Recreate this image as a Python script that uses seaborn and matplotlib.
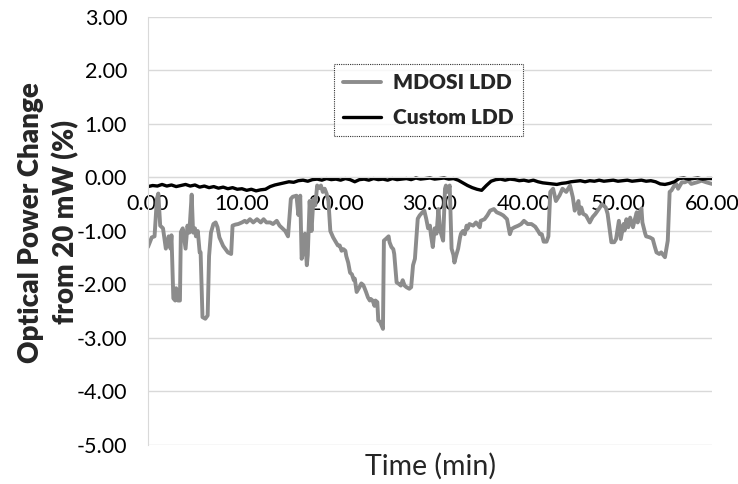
import matplotlib
matplotlib.use("Agg")
import matplotlib.pyplot as plt
import seaborn as sns
import pandas as pd
from matplotlib.ticker import FormatStrFormatter

# --- data ---
mdosi_time = [0.0, 0.4, 0.7, 0.95, 1.1, 1.3, 1.6, 1.9, 2.2, 2.4, 2.5, 2.7, 2.9, 3.0, 3.2, 3.4, 3.5, 3.7,
              4.0, 4.2, 4.4, 4.65, 4.8, 5.0, 5.1, 5.3, 5.5, 5.6, 5.8, 6.1, 6.35, 6.5, 6.7, 6.96, 7.2,
              7.4, 7.6, 8.0, 8.5, 8.85, 9.0, 9.3, 9.6, 10.0, 10.3, 10.5, 10.85, 11.2, 11.6, 12.0, 12.3,
              12.6, 13.0, 13.3, 13.7, 14.0, 14.6, 14.9, 15.2, 15.4, 15.8, 16.0, 16.2, 16.35, 16.5, 16.7,
              16.9, 17.0, 17.2, 17.4, 17.6, 17.8, 18.0, 18.2, 18.4, 18.6, 18.8, 19.0, 19.2, 19.4, 19.7,
              19.9, 20.2, 20.4, 20.6, 20.8, 21.0, 21.1, 21.3, 21.5, 21.7, 21.9, 22.0, 22.2, 22.4, 22.5,
              22.7, 22.9, 23.0, 23.2, 23.4, 23.6, 23.7, 23.9, 24.1, 24.2, 24.4, 24.5, 24.7, 25.0, 25.1,
              25.3, 25.6, 25.7, 25.9, 26.1, 26.2, 26.45, 26.7, 26.9, 27.1, 27.3, 27.5, 27.8, 28.0, 28.2,
              28.4, 28.7, 28.9, 29.2, 29.4, 29.6, 29.8, 30.0, 30.1, 30.3, 30.5, 30.7, 30.9, 31.1, 31.4,
              31.6, 31.7, 31.9, 32.1, 32.3, 32.5, 32.6, 32.8, 33.0, 33.2, 33.3, 33.5, 33.7, 33.9, 34.0,
              34.2, 34.6, 34.9, 35.3, 35.4, 35.8, 36.1, 36.4, 36.8, 37.1, 37.5, 37.8, 38.2, 38.5, 38.7,
              39.0, 39.4, 39.7, 40.0, 40.4, 40.8, 41.2, 41.5, 41.7, 41.9, 42.1, 42.4, 42.6, 42.8, 43.1,
              43.4, 43.8, 44.1, 44.5, 44.9, 45.2, 45.4, 45.8, 45.9, 46.1, 46.3, 46.6, 47.0, 47.3, 47.6,
              48.0, 48.3, 48.7, 48.9, 49.3, 49.6, 49.8, 50.1, 50.3, 50.6, 50.7, 50.9, 51.1, 51.3, 51.6,
              51.8, 52.0, 52.1, 52.3, 52.5, 52.6, 52.9, 53.0, 53.4, 53.7, 53.9, 54.1, 54.4, 54.6, 55.0,
              55.2, 55.3, 55.5, 55.7, 56.0, 56.2, 56.4, 56.8, 57.1, 57.5, 57.8, 58.4, 58.9, 59.4, 60.0]
mdosi_change = [-1.30, -1.12, -1.10, -0.40, -0.30, -0.90, -0.95, -1.33, -1.10, -1.33, -1.08, -2.26, -2.30,
                -2.07, -2.30, -2.30, -1.02, -0.95, -1.33, -0.90, -1.03, -0.32, -1.03, -0.95, -1.10, -1.00,
                -1.40, -1.40, -2.61, -2.64, -2.58, -1.47, -1.03, -0.87, -0.84, -0.93, -1.12, -1.28, -1.40,
                -1.43, -0.90, -0.88, -0.87, -0.84, -0.81, -0.84, -0.78, -0.84, -0.78, -0.84, -0.78, -0.84,
                -0.84, -0.87, -0.81, -0.90, -1.00, -1.10, -0.40, -0.36, -0.34, -0.70, -0.34, -1.52, -1.40,
                -1.05, -1.64, -1.45, -0.44, -1.00, -0.40, -0.52, -0.15, -0.20, -0.15, -0.27, -0.21, -0.30,
                -0.44, -1.00, -1.12, -1.18, -1.27, -1.27, -1.37, -1.34, -1.37, -1.47, -1.59, -1.78, -1.81,
                -1.92, -1.89, -2.14, -2.08, -2.05, -1.98, -2.01, -2.05, -2.14, -2.24, -2.30, -2.27, -2.30,
                -2.40, -2.30, -2.33, -2.67, -2.70, -2.83, -1.18, -1.15, -1.10, -1.21, -1.30, -1.34, -1.43,
                -1.96, -1.99, -2.02, -1.92, -2.02, -2.05, -2.08, -2.05, -1.64, -1.52, -0.77, -0.71, -0.65,
                -0.62, -0.77, -0.95, -0.90, -1.07, -1.30, -0.95, -1.05, -0.59, -1.00, -1.18, -0.21, -0.15,
                -0.27, -0.15, -1.33, -1.45, -1.59, -1.45, -1.33, -1.12, -1.05, -1.00, -1.06, -0.90, -0.96,
                -0.87, -0.90, -0.84, -0.93, -0.81, -0.78, -0.71, -0.62, -0.59, -0.65, -0.68, -0.71, -0.78,
                -1.06, -0.96, -0.93, -0.90, -0.87, -0.81, -0.87, -0.87, -0.92, -1.00, -1.06, -1.06, -1.20,
                -1.20, -1.10, -0.27, -0.21, -0.44, -0.33, -0.21, -0.27, -0.15, -0.37, -0.62, -0.44, -0.68,
                -0.56, -0.68, -0.71, -0.84, -0.74, -0.68, -0.58, -0.50, -0.56, -0.68, -1.21, -1.21, -1.15,
                -0.81, -1.15, -0.87, -0.99, -0.78, -0.93, -0.75, -0.93, -0.78, -0.65, -0.84, -0.65, -0.58,
                -0.84, -1.05, -1.10, -1.12, -1.15, -1.28, -1.40, -1.43, -1.40, -1.49, -1.28, -1.18, -0.27,
                -0.24, -0.15, -0.12, -0.21, -0.09, -0.09, -0.06, -0.12, -0.09, -0.06, -0.09, -0.12]

custom_time = [i * 0.5 for i in range(121)]
custom_change = [-0.17, -0.15, -0.16, -0.13, -0.16, -0.14, -0.17, -0.15, -0.13, -0.16, -0.14, -0.18, -0.16,
                 -0.19, -0.17, -0.20, -0.18, -0.21, -0.19, -0.22, -0.21, -0.24, -0.22, -0.25, -0.23, -0.22,
                 -0.17, -0.14, -0.12, -0.10, -0.08, -0.09, -0.06, -0.05, -0.07, -0.04, -0.03, -0.05, -0.02,
                 -0.04, -0.03, -0.05, -0.02, -0.04, -0.08, -0.04, -0.03, -0.05, -0.02, -0.04, -0.03, -0.05,
                 -0.02, -0.04, -0.03, -0.02, -0.04, -0.01, -0.03, -0.02, -0.01, -0.03, -0.02, -0.01, -0.03,
                 -0.02, -0.05, -0.10, -0.15, -0.19, -0.22, -0.24, -0.15, -0.07, -0.04, -0.03, -0.05, -0.03,
                 -0.04, -0.06, -0.05, -0.07, -0.05, -0.08, -0.10, -0.11, -0.12, -0.13, -0.11, -0.10, -0.08,
                 -0.07, -0.06, -0.08, -0.06, -0.07, -0.05, -0.07, -0.06, -0.05, -0.07, -0.06, -0.05, -0.07,
                 -0.06, -0.05, -0.07, -0.06, -0.08, -0.12, -0.13, -0.11, -0.08, -0.02, -0.01, -0.03, -0.02,
                 -0.01, -0.03, -0.02, -0.02]

x_ticks = [0, 10, 20, 30, 40, 50, 60]
y_ticks = [3, 2, 1, 0, -1, -2, -3, -4, -5]

df_mdosi = pd.DataFrame({"time": mdosi_time, "change": mdosi_change})
df_custom = pd.DataFrame({"time": custom_time, "change": custom_change})

sns.set_style("white")
plt.rcParams["font.family"] = ["Lato", "DejaVu Sans"]

fig = plt.figure(figsize=(7.38, 4.84), dpi=100)
ax = fig.add_axes([0.2005, 0.0806, 0.7642, 0.8843])

sns.lineplot(data=df_mdosi, x="time", y="change", ax=ax, color="#8c8c8c", lw=2.8,
             label="MDOSI LDD", estimator=None, sort=False)
sns.lineplot(data=df_custom, x="time", y="change", ax=ax, color="black", lw=2.4,
             label="Custom LDD", estimator=None, sort=False)

ax.set_xlim(0, 60)
ax.set_ylim(-5, 3)
ax.set_xticks(x_ticks)
ax.set_yticks(y_ticks)
ax.xaxis.set_major_formatter(FormatStrFormatter("%.2f"))
ax.yaxis.set_major_formatter(FormatStrFormatter("%.2f"))
ax.grid(axis="y", color="#d9d9d9", lw=1)
ax.set_axisbelow(True)

for s in ["top", "right"]:
    ax.spines[s].set_visible(False)
ax.spines["left"].set_color("#d9d9d9")
ax.spines["bottom"].set_color("#d9d9d9")
ax.spines["bottom"].set_position(("data", 0))
ax.tick_params(axis="both", length=0, labelsize=15.5, colors="black")
ax.tick_params(axis="x", pad=12)
ax.tick_params(axis="y", pad=15)

ax.set_xlabel("")
ax.set_ylabel("Optical Power Change\nfrom 20 mW (%)", fontsize=20, fontweight="heavy",
              linespacing=1.35)
ax.yaxis.set_label_coords(-0.122, 0.52)
fig.text(0.583, 0.037, "Time (min)", fontsize=20.5, ha="center", va="center")

leg = ax.legend(loc="upper left", bbox_to_anchor=(0.33, 0.89), borderaxespad=0, frameon=True,
                fancybox=False, prop={"weight": "heavy", "size": 15}, handlelength=1.8,
                labelspacing=0.75, borderpad=0.45, handletextpad=0.6)
leg.get_frame().set_edgecolor("black")
leg.get_frame().set_linestyle((0, (1, 1)))
leg.get_frame().set_linewidth(0.8)

fig.savefig("out.png", dpi=100)
